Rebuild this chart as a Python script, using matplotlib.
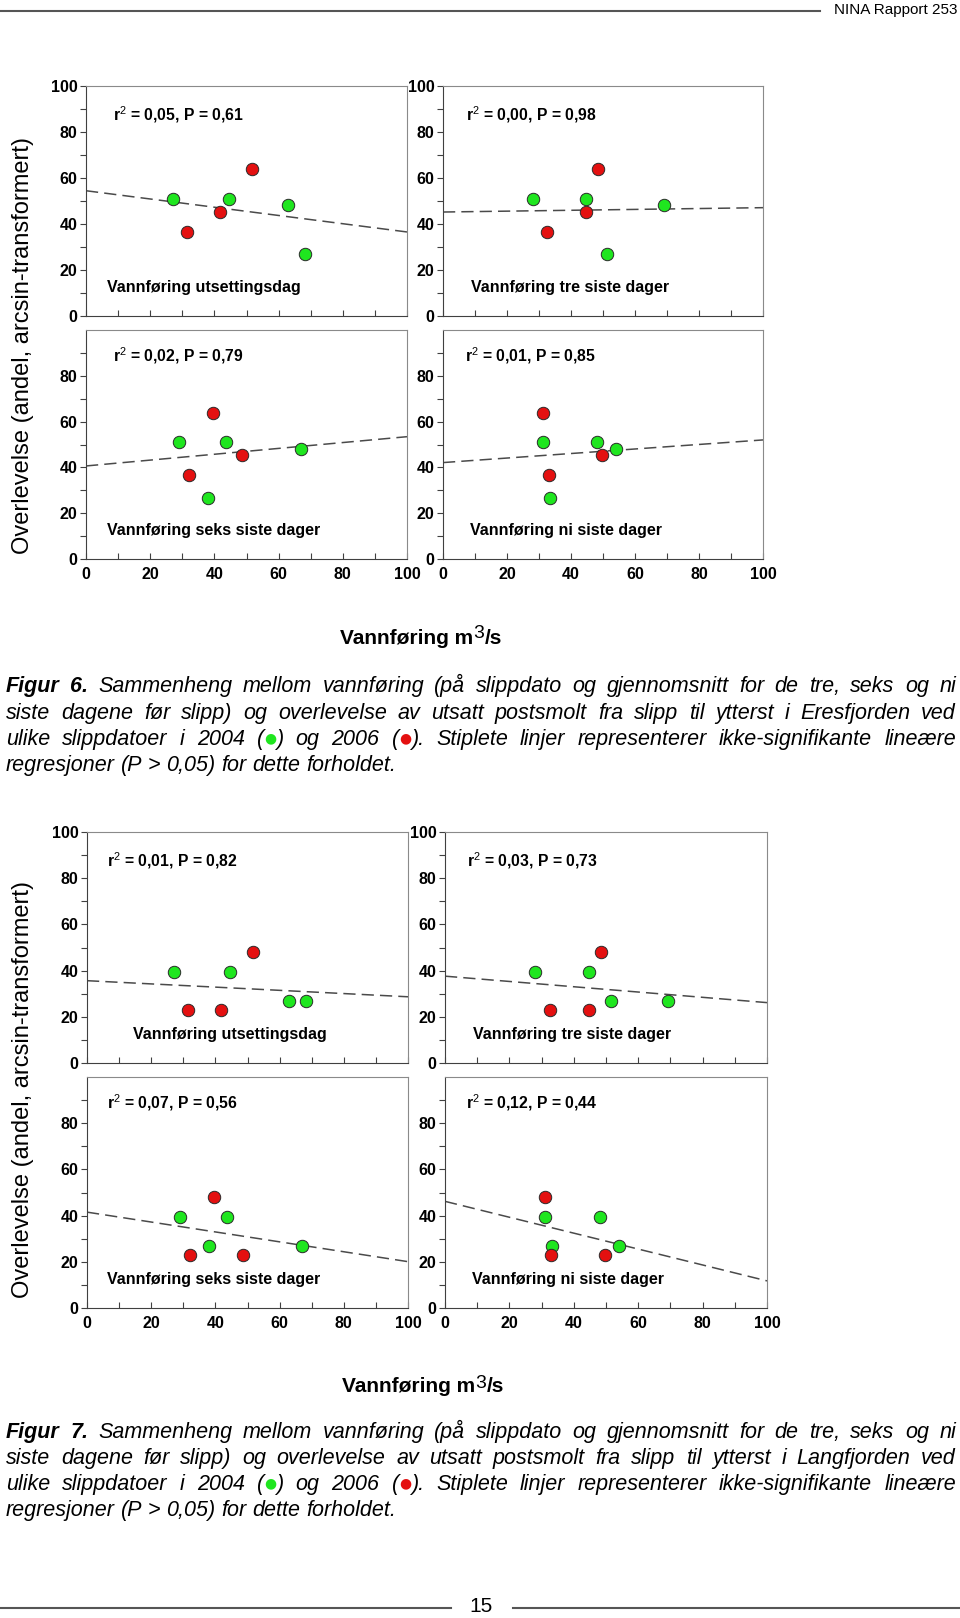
import re
import numpy as np
import matplotlib
matplotlib.use("Agg")
import matplotlib.pyplot as plt
from matplotlib.lines import Line2D

plt.rcParams['font.family'] = ['Liberation Sans', 'DejaVu Sans']
plt.rcParams['mathtext.fontset'] = 'custom'
plt.rcParams['mathtext.rm'] = 'Liberation Sans'
plt.rcParams['mathtext.it'] = 'Liberation Sans:italic'
plt.rcParams['mathtext.bf'] = 'Liberation Sans:bold'

# vannføring (m3/s) ved hver utsetting: på dagen og snitt for 3, 6 og 9 dager før
periods = ["Vannføring utsettingsdag", "Vannføring tre siste dager",
           "Vannføring seks siste dager", "Vannføring ni siste dager"]
q2004_dag = [27.0, 44.5, 62.9, 68.3]
q2004_3d = [28.0, 44.8, 69.2, 51.4]
q2004_6d = [28.9, 43.7, 66.9, 38.0]
q2004_9d = [31.2, 48.1, 54.1, 33.3]
q2006_dag = [31.6, 41.6, 51.8]
q2006_3d = [32.6, 44.8, 48.3]
q2006_6d = [32.2, 48.7, 39.7]
q2006_9d = [33.0, 49.7, 31.2]

# overlevelse (andel, arcsin-transformert)
ov6_2004 = [51.0, 51.0, 48.2, 26.8]   # Eresfjorden (figur 6)
ov6_2006 = [36.5, 45.3, 63.7]
ov7_2004 = [39.5, 39.5, 26.8, 26.8]   # Langfjorden (figur 7)
ov7_2006 = [23.0, 23.0, 48.0]

r2_6 = ["0,05", "0,00", "0,02", "0,01"]
p_6 = ["0,61", "0,98", "0,79", "0,85"]
r2_7 = ["0,01", "0,03", "0,07", "0,12"]
p_7 = ["0,82", "0,73", "0,56", "0,44"]

cap6 = ["Figur 6. Sammenheng mellom vannføring (på slippdato og gjennomsnitt for de tre, seks og ni",
        "siste dagene før slipp) og overlevelse av utsatt postsmolt fra slipp til ytterst i Eresfjorden ved",
        "ulike slippdatoer i 2004 (#g) og 2006 (#r). Stiplete linjer representerer ikke-signifikante lineære",
        "regresjoner (P > 0,05) for dette forholdet."]
cap7 = [cap6[0].replace("Figur 6.", "Figur 7."),
        cap6[1].replace("Eresfjorden", "Langfjorden"),
        cap6[2], cap6[3]]

GREEN = '#1fe61f'
RED = '#e41010'
W, H = 960, 1618
CAP_FS = 15.5

fig = plt.figure(figsize=(W / 100, H / 100), dpi=100)
renderer = fig.canvas.get_renderer()


def put(xpx, ypx, s, **kw):
    return fig.text(xpx / W, 1 - ypx / H, s, **kw)


def width(t):
    return t.get_window_extent(renderer).width


def add_ax(x0, y0, x1, y1):
    return fig.add_axes([x0 / W, 1 - y1 / H, (x1 - x0) / W, (y1 - y0) / H])


def panel(ax, q04, q06, s04, s06, r2, p, name, top, sx, nx):
    x = np.r_[q04, q06]
    y = np.r_[s04, s06]
    b, a = np.polyfit(x, y, 1)
    xl = np.array([0.0, 100.0])
    ax.plot(xl, a + b * xl, color='#4a4a4a', lw=1.1, ls=(0, (8, 4)), zorder=2)
    ax.scatter(q04, s04, s=80, c=GREEN, edgecolors='#2a2a2a', linewidths=0.7, zorder=3)
    ax.scatter(q06, s06, s=80, c=RED, edgecolors='#2a2a2a', linewidths=0.7, zorder=3)
    ax.set_xlim(0, 100)
    ax.set_ylim(0, 100)
    ax.set_xticks(np.arange(0, 101, 20))
    ax.set_xticks(np.arange(10, 100, 20), minor=True)
    ax.set_yticks(np.arange(0, 101 if top else 81, 20))
    ax.set_yticks(np.arange(10, 100, 20), minor=True)
    ax.tick_params(axis='y', which='both', direction='out', length=4, width=0.8,
                   color='#404040', pad=2, labelsize=11.5)
    ax.tick_params(axis='x', which='both', direction='in', length=4, width=0.8,
                   color='#404040', pad=6, labelsize=11.5, labelbottom=not top)
    for lab in ax.get_xticklabels() + ax.get_yticklabels():
        lab.set_fontweight('bold')
    for s in ['left', 'bottom']:
        ax.spines[s].set_color('#404040')
    for s in ['top', 'right']:
        ax.spines[s].set_color('#8a8a8a')
    ax.text(sx, 87.5 if top else 89, f"r$^2$ = {r2}, P = {p}", fontsize=11.3,
            fontweight='bold', va='center')
    ax.text(nx, 12.3, name, fontsize=11.5, fontweight='bold', va='center')


def caption(lines, ycs, x0=6, x1=956):
    space = 0.27 * CAP_FS * 100 / 72
    for i, (line, yc) in enumerate(zip(lines, ycs)):
        yb = yc + 6
        words = []
        for j, w in enumerate(line.split(' ')):
            bold = (i == 0 and j < 2)
            pieces = []
            for part in re.split(r'(#g|#r)', w):
                if part == '':
                    continue
                if part in ('#g', '#r'):
                    t = put(0, yb - 3, '●', color=GREEN if part == '#g' else RED,
                            fontsize=10, family='DejaVu Sans', va='baseline')
                else:
                    t = put(0, yb, part, fontsize=CAP_FS, style='italic',
                            weight='bold' if bold else 'normal', family='Liberation Sans',
                            va='baseline')
                pieces.append(t)
            words.append(pieces)
        ws = [[width(t) for t in ps] for ps in words]
        total = sum(sum(w) for w in ws)
        last = i == len(lines) - 1
        gap = space if last else (x1 - x0 - total) / (len(words) - 1)
        x = x0
        for ps, wl in zip(words, ws):
            for t, w in zip(ps, wl):
                t.set_x(x / W)
                x += w
            x += gap


def xlabel(cx, yc):
    pieces = [put(0, yc, "Vannføring m", fontsize=15, fontweight='bold', va='center'),
              put(0, yc - 4, "3", fontsize=14, va='center'),
              put(0, yc, "/s", fontsize=15, fontweight='bold', va='center')]
    ws = [width(t) for t in pieces]
    x = cx - sum(ws) / 2
    for t, w in zip(pieces, ws):
        t.set_x(x / W)
        x += w


q04 = [q2004_dag, q2004_3d, q2004_6d, q2004_9d]
q06 = [q2006_dag, q2006_3d, q2006_6d, q2006_9d]

# figur 6
boxes6 = [(86, 86, 407, 316), (443, 86, 763, 316), (86, 330, 407, 559), (443, 330, 763, 559)]
sx6 = [8.4, 7.3, 8.4, 7.0]
nx6 = [6.5, 8.6, 6.5, 8.3]
for k in range(4):
    ax = add_ax(*boxes6[k])
    panel(ax, q04[k], q06[k], ov6_2004, ov6_2006, r2_6[k], p_6[k], periods[k],
          k < 2, sx6[k], nx6[k])

# figur 7
boxes7 = [(87, 832, 408, 1063), (445, 832, 767, 1063), (87, 1077, 408, 1308), (445, 1077, 767, 1308)]
sx7 = [6.2, 6.9, 6.2, 6.5]
nx7 = [14.3, 8.8, 6.2, 8.4]
for k in range(4):
    ax = add_ax(*boxes7[k])
    panel(ax, q04[k], q06[k], ov7_2004, ov7_2006, r2_7[k], p_7[k], periods[k],
          k < 2, sx7[k], nx7[k])

ylab = "Overlevelse (andel, arcsin-transformert)"
put(23, 345, ylab, fontsize=17, rotation=90, ha='center', va='center')
put(23, 1090, ylab, fontsize=17, rotation=90, ha='center', va='center')
xlabel(421, 638)
xlabel(423, 1387)

caption(cap6, [686, 713, 739, 765])
caption(cap7, [1432, 1458, 1484, 1510])

# topptekst og sidetall
fig.add_artist(Line2D([0, 820 / W], [1 - 11 / H] * 2, color='#555555', lw=1.5))
put(957, 10, "NINA Rapport 253", fontsize=11, family='Liberation Sans', ha='right', va='center')
fig.add_artist(Line2D([0, 451 / W], [1 - 1608 / H] * 2, color='#555555', lw=1.5))
fig.add_artist(Line2D([513 / W, 1], [1 - 1608 / H] * 2, color='#555555', lw=1.5))
put(481, 1606, "15", fontsize=15, family='Liberation Sans', ha='center', va='center')

fig.savefig("out.png", dpi=100)
